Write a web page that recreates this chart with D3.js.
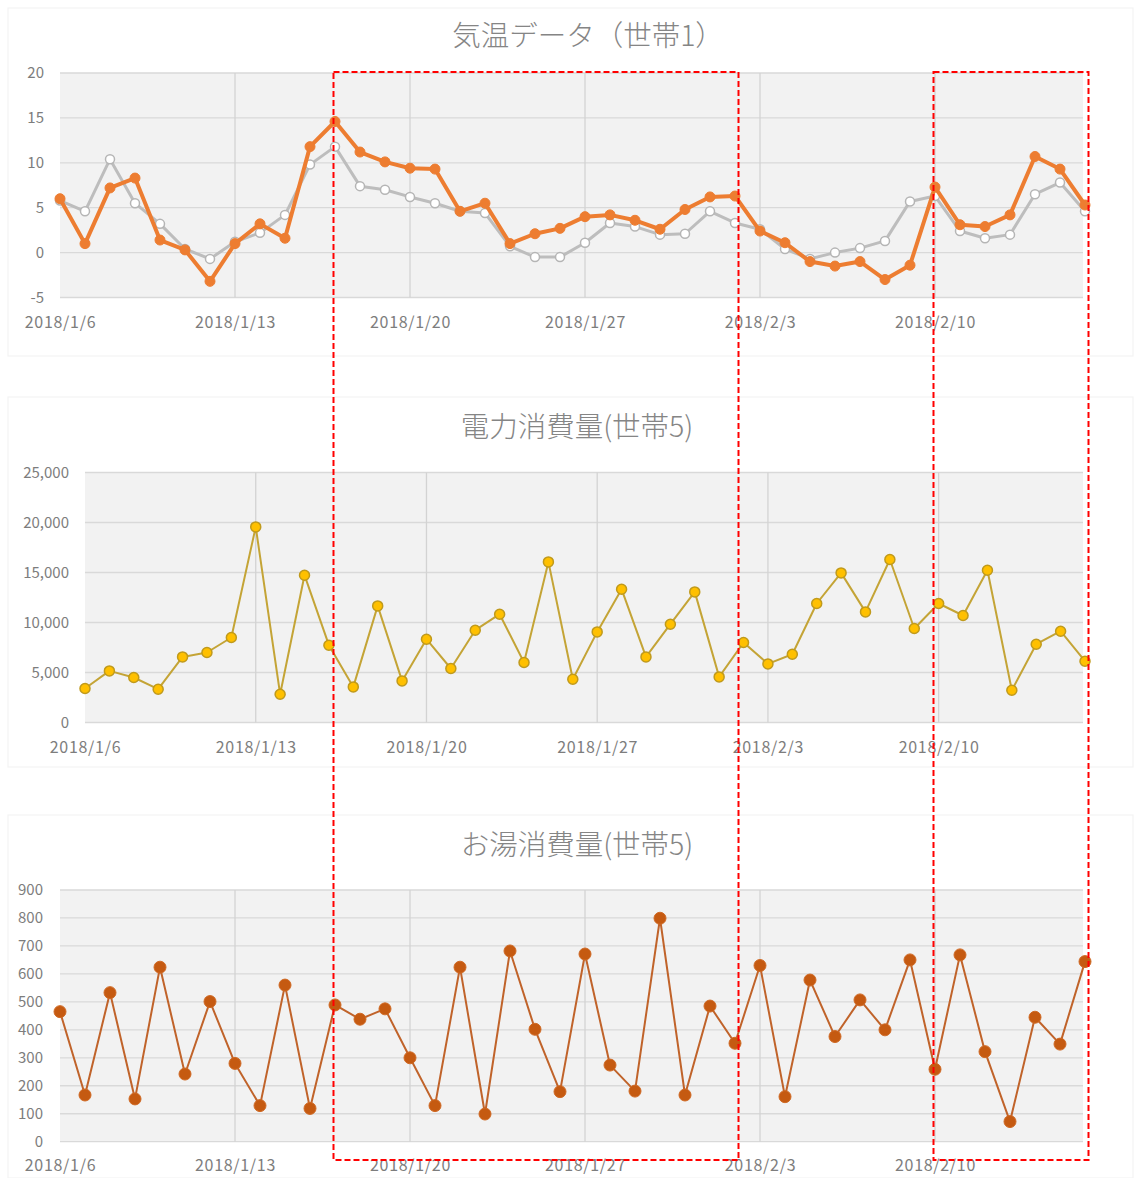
<!DOCTYPE html>
<html><head><meta charset="utf-8">
<script src="https://cdn.jsdelivr.net/npm/d3@7"></script>
<style>
html,body{margin:0;padding:0;background:#fff;}
svg{display:block;font-family:"Noto Sans CJK JP","Noto Sans",sans-serif;}
</style></head>
<body><svg id="c" width="1135" height="1178"></svg>
<script>
// ---- data ----
const dates = ["2018-01-06","2018-01-07","2018-01-08","2018-01-09","2018-01-10","2018-01-11","2018-01-12",
"2018-01-13","2018-01-14","2018-01-15","2018-01-16","2018-01-17","2018-01-18","2018-01-19",
"2018-01-20","2018-01-21","2018-01-22","2018-01-23","2018-01-24","2018-01-25","2018-01-26",
"2018-01-27","2018-01-28","2018-01-29","2018-01-30","2018-01-31","2018-02-01","2018-02-02",
"2018-02-03","2018-02-04","2018-02-05","2018-02-06","2018-02-07","2018-02-08","2018-02-09",
"2018-02-10","2018-02-11","2018-02-12","2018-02-13","2018-02-14","2018-02-15","2018-02-16"];
const tempOrange = [6.0,1.0,7.2,8.3,1.4,0.3,-3.2,1.0,3.2,1.6,11.8,14.6,11.2,10.1,9.4,9.3,4.6,5.5,1.0,2.1,2.7,4.0,4.2,3.6,2.6,4.8,6.2,6.3,2.4,1.1,-1.0,-1.5,-1.0,-3.0,-1.4,7.3,3.1,2.9,4.2,10.7,9.3,5.3];
const tempGray   = [5.8,4.6,10.4,5.5,3.2,0.4,-0.7,1.2,2.2,4.2,9.8,11.8,7.4,7.0,6.2,5.5,4.6,4.4,0.7,-0.5,-0.5,1.1,3.3,2.9,2.0,2.1,4.6,3.3,2.6,0.4,-0.7,0.0,0.5,1.3,5.7,6.3,2.4,1.6,2.0,6.5,7.8,4.6];
const power = [3400,5160,4500,3330,6560,7000,8500,19560,2830,14730,7730,3560,11660,4160,8330,5400,9230,10830,6000,16060,4330,9060,13330,6560,9830,13060,4560,8000,5860,6830,11900,14960,11060,16300,9400,11900,10700,15230,3230,7830,9130,6130];
const hotWater = [465,167,533,153,624,242,501,280,129,560,119,489,438,475,300,129,624,99,682,402,179,671,274,181,799,167,485,352,630,161,578,376,507,400,650,259,668,322,72,445,349,644];
const titles = ["気温データ（世帯1）","電力消費量(世帯5)","お湯消費量(世帯5)"];
const tickDates = ["2018-01-06","2018-01-13","2018-01-20","2018-01-27","2018-02-03","2018-02-10"];
const yTicks1 = [-5,0,5,10,15,20];
const yTicks2 = [0,5000,10000,15000,20000,25000];
const yTicks3 = [0,100,200,300,400,500,600,700,800,900];
const highlightRanges = [["2018-01-17","2018-02-02"],["2018-02-10","2018-02-16"]];

const parse = d3.timeParse("%Y-%m-%d");
const D = dates.map(parse);
const TD = tickDates.map(parse);
const fmtDate = d => `${d.getFullYear()}/${d.getMonth()+1}/${d.getDate()}`;
const svg = d3.select("#c");
const labelColor = "#7d7d7d";

function panel(cfg){
  const g = svg.append("g");
  g.append("rect").attr("x",cfg.frame[0]).attr("y",cfg.frame[1]).attr("width",cfg.frame[2]).attr("height",cfg.frame[3])
    .attr("fill","#fff").attr("stroke","#f4f4f4").attr("stroke-width",1.2);
  const x = d3.scaleTime().domain([D[0],D[D.length-1]]).range(cfg.xr);
  const y = d3.scaleLinear().domain(cfg.yd).range(cfg.yr);
  g.append("rect").attr("x",cfg.xr[0]).attr("y",cfg.yr[1]).attr("width",cfg.xr[1]-2-cfg.xr[0]).attr("height",cfg.yr[0]-cfg.yr[1]).attr("fill","#f2f2f2");
  g.selectAll(null).data(cfg.yt).join("line")
    .attr("x1",cfg.xr[0]).attr("x2",cfg.xr[1]-2).attr("y1",d=>y(d)).attr("y2",d=>y(d))
    .attr("stroke","#d9d9d9").attr("stroke-width",1.3);
  g.selectAll(null).data(TD.slice(1)).join("line")
    .attr("x1",d=>x(d)).attr("x2",d=>x(d)).attr("y1",cfg.yr[1]).attr("y2",cfg.yr[0])
    .attr("stroke","#d3d3d3").attr("stroke-width",1.3);
  const yAx = d3.axisLeft(y).tickValues(cfg.yt).tickSize(0).tickPadding(0).tickFormat(cfg.yf);
  const ya = g.append("g").attr("transform",`translate(${cfg.yLabelX},0)`).call(yAx);
  ya.select(".domain").remove();
  ya.selectAll("text").attr("fill",labelColor).attr("font-size",15).attr("font-family","'Noto Sans CJK JP',sans-serif");
  const xAx = d3.axisBottom(x).tickValues(TD).tickSize(0).tickPadding(0).tickFormat(fmtDate);
  const xa = g.append("g").attr("transform",`translate(0,${cfg.xLabelY})`).call(xAx);
  xa.select(".domain").remove();
  xa.selectAll("text").attr("fill",labelColor).attr("font-size",16).attr("letter-spacing","0.7px").attr("dy","0")
    .attr("dominant-baseline","middle").attr("font-family","'Noto Sans CJK JP',sans-serif");
  g.append("text").attr("x",cfg.title[1]).attr("y",cfg.title[2]).attr("text-anchor","middle")
    .attr("fill","#858585").attr("font-size",28.5).attr("font-weight",300).text(cfg.title[0]);
  cfg.series.forEach(s=>{
    const line = d3.line().x((d,i)=>x(D[i])).y(d=>y(d));
    g.append("path").datum(s.values).attr("d",line).attr("fill","none")
      .attr("stroke",s.color).attr("stroke-width",s.width).attr("stroke-linejoin","round");
    g.selectAll(null).data(s.values).join("circle")
      .attr("cx",(d,i)=>x(D[i])).attr("cy",d=>y(d)).attr("r",s.r)
      .attr("fill",s.fill).attr("stroke",s.mstroke).attr("stroke-width",s.mw);
  });
  return x;
}

const x1 = panel({frame:[8,8,1125,348], xr:[60,1085], yd:[-5,20], yr:[297.5,73], yt:yTicks1, yf:d=>d, yLabelX:44, xLabelY:324,
  title:[titles[0],588,46],
  series:[
    {values:tempGray,color:"#bdbdbd",width:3,r:4.5,fill:"#ffffff",mstroke:"#b5b5b5",mw:1.5},
    {values:tempOrange,color:"#ed7d31",width:4,r:5,fill:"#ed7d31",mstroke:"#ed7d31",mw:1}
  ]});
panel({frame:[8,397,1125,370], xr:[85,1085], yd:[0,25000], yr:[722.5,472.5], yt:yTicks2, yf:d3.format(","), yLabelX:69, xLabelY:749,
  title:[titles[1],577,437],
  series:[
    {values:power,color:"#c4a436",width:2,r:5,fill:"#ffc000",mstroke:"#c09a1c",mw:1.5}
  ]});
panel({frame:[8,815,1125,363], xr:[60,1085], yd:[0,900], yr:[1141.7,890], yt:yTicks3, yf:d=>d, yLabelX:43, xLabelY:1167,
  title:[titles[2],577,855],
  series:[
    {values:hotWater,color:"#c0632a",width:2,r:6,fill:"#c55a11",mstroke:"#d06a25",mw:1}
  ]});

highlightRanges.forEach(r=>{
  const a = x1(parse(r[0])) - 1.5, b = x1(parse(r[1])) + 3.5;
  svg.append("rect").attr("x",a).attr("y",72).attr("width",b-a).attr("height",1160-72)
    .attr("fill","none").attr("stroke","#ff0000").attr("stroke-width",2).attr("stroke-dasharray","6,3");
});
</script></body></html>
